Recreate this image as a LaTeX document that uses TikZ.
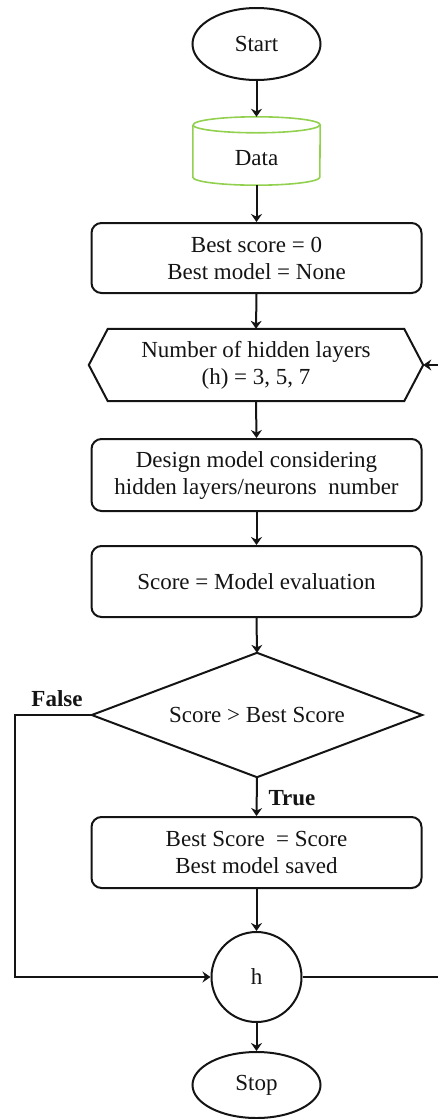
\documentclass[tikz,border=0pt]{standalone}
\usepackage{fontspec}
\setmainfont{Liberation Serif}
\usetikzlibrary{arrows.meta,shapes.geometric}
\definecolor{linec}{RGB}{20,20,20}
\definecolor{datagreen}{RGB}{146,208,80}
\begin{document}
\begin{tikzpicture}[x=1pt,y=-1pt,
  every node/.style={font=\fontsize{23}{27}\selectfont, text=linec, align=center, inner sep=0pt},
  line/.style={draw=linec, line width=2pt},
  arr/.style={line, -{Stealth[length=8pt,width=11pt]}},
  term/.style={line, ellipse, minimum width=128pt},
  procbox/.style={line, rectangle, rounded corners=10pt, minimum width=330pt},
  ghost/.style={rectangle, draw=none},
  lbl/.style={font=\fontsize{23}{27}\selectfont\bfseries}
]
\useasboundingbox (0,0) rectangle (438,1119);

% nodes
\node[term, minimum height=72pt] (start) at (256.5,44) {Start};
\node[ghost, minimum width=127pt, minimum height=68pt] (data) at (256.5,151) {};
\node (datatext) at (256.5,158) {Data};
\node[procbox, minimum height=70pt] (init) at (256.5,258) {Best score = 0\\Best model = None};
\node[ghost, minimum width=334pt, minimum height=72pt] (hex) at (256,365) {Number of hidden layers\\(h) = 3, 5, 7};
\node[procbox, minimum height=72pt] (design) at (256.5,475) {Design model considering\\hidden layers/neurons~~number};
\node[procbox, minimum height=71pt] (score) at (256.5,581.5) {Score = Model evaluation};
\node[ghost, minimum width=330pt, minimum height=124pt] (dia) at (257,715) {Score > Best Score};
\node[procbox, minimum height=71pt] (best) at (256.5,852.5) {Best Score~~= Score\\Best model saved};
\node[line, circle, minimum size=90pt] (h) at (256.5,977) {h};
\node[term, minimum height=66pt] (stop) at (256.5,1085) {Stop};

% cylinder for Data
\draw[draw=datagreen, line width=1.6pt]
  ([yshift=-8pt]data.north west) -- ([yshift=8pt]data.south west)
  arc[start angle=180, end angle=360, x radius=63.5pt, y radius=8pt]
  -- ([yshift=-8pt]data.north east)
  arc[start angle=0, end angle=180, x radius=63.5pt, y radius=8pt];
\draw[draw=datagreen, line width=1.6pt]
  ([yshift=-8pt]data.north west) arc[start angle=180, end angle=360, x radius=63.5pt, y radius=8pt];

% hexagon
\draw[line, line join=miter] (hex.west) -- ([xshift=19pt]hex.north west) -- ([xshift=-19pt]hex.north east)
  -- (hex.east) -- ([xshift=-19pt]hex.south east) -- ([xshift=19pt]hex.south west) -- cycle;

% diamond
\draw[line, line join=miter] (dia.west) -- (dia.north) -- (dia.east) -- (dia.south) -- cycle;

% connectors
\draw[arr] (start.south) -- (data.north);
\draw[arr] (data.south) -- (init.north);
\draw[arr] (init.south) -- (hex.north);
\draw[arr] (hex.south) -- (design.north);
\draw[arr] (design.south) -- (score.north);
\draw[arr] (score.south) -- (dia.north);
\draw[arr] (dia.south) -- (best.north);
\draw[arr] (best.south) -- (h.north);
\draw[arr] (h.south) -- (stop.north);

\coordinate (fl) at (15,715);
\coordinate (fb) at (15,977);
\draw[arr] (dia.west) -- (fl) -- (fb) -- (h.west);

\coordinate (rb) at (440,977);
\coordinate (rt) at (440,365);
\draw[arr] (h.east) -- (rb) -- (rt) -- (hex.east);

% labels
\node[lbl] (truelbl) at (292,798) {True};
\node[lbl] (falselbl) at (57,699) {False};
\end{tikzpicture}
\end{document}
